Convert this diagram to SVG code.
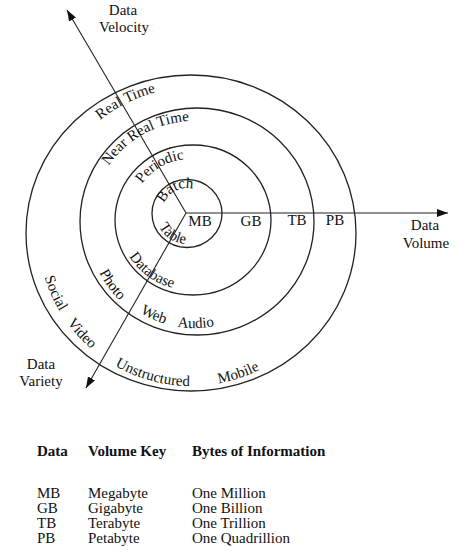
<svg xmlns="http://www.w3.org/2000/svg" xmlns:xlink="http://www.w3.org/1999/xlink" width="473" height="553" viewBox="0 0 473 553">
<style>
.ring{fill:none;stroke:#222;stroke-width:1.3}
.axis{fill:none;stroke:#222;stroke-width:1.1}
.t{font-family:"Liberation Serif","Times New Roman",serif;font-size:15px;fill:#111}
.b{font-weight:bold}
.m{text-anchor:middle}
</style>
<defs>
<marker id="ah" markerUnits="userSpaceOnUse" markerWidth="11" markerHeight="8" refX="11" refY="4" orient="auto">
<path d="M0,0 L11,4 L0,8 z" fill="#111"/>
</marker>
<path id="pRealTime" d="M46,233 A145,145 0 0 1 336,233"/>
<path id="pNear" d="M90,225 A104,104 0 0 1 298,225"/>
<path id="pPeriodic" d="M131,218 A59,59 0 0 1 249,218"/>
<path id="pBatch" d="M162,213 A25,25 0 0 1 212,213"/>
<path id="pTable" d="M187,182 A31,31 0 0 0 156,213 A31,31 0 0 0 218,213"/>
<path id="pDatabase" d="M190,146 A72,72 0 0 0 118,218 A72,72 0 0 0 262,218"/>
<path id="pPhoto" d="M194,119 A106,106 0 0 0 88,225 A106,106 0 0 0 300,225"/>
<path id="pWeb" d="M194,122 A103,103 0 0 0 91,225 A103,103 0 0 0 297,225"/>
<path id="pOuter" d="M191,80 A153,153 0 0 0 38,233 A153,153 0 0 0 344,233"/>
</defs>

<g id="rings">
<ellipse id="ring-pb" class="ring" cx="191" cy="233" rx="165" ry="158"/>
<ellipse id="ring-tb" class="ring" cx="197" cy="221.5" rx="117" ry="113.5"/>
<ellipse id="ring-gb" class="ring" cx="193" cy="220" rx="78" ry="75"/>
<ellipse id="ring-mb" class="ring" cx="187" cy="213.5" rx="35" ry="34"/>
</g>

<g id="connectors">
<line class="axis" x1="186" y1="213" x2="448" y2="213" marker-end="url(#ah)"/>
<line class="axis" x1="186" y1="213" x2="67" y2="10" marker-end="url(#ah)"/>
<line class="axis" x1="186" y1="213" x2="86" y2="388" marker-end="url(#ah)"/>
</g>

<g id="axis-velocity">
<text class="t m" x="123" y="15">Data</text>
<text class="t m" x="124" y="32">Velocity</text>
</g>
<g id="axis-volume">
<text class="t m" x="425" y="230">Data</text>
<text class="t m" x="426" y="248">Volume</text>
</g>
<g id="axis-variety">
<text class="t m" x="41" y="369">Data</text>
<text class="t m" x="41" y="386">Variety</text>
</g>

<g id="volume-labels">
<text class="t m" x="200" y="226">MB</text>
<text class="t m" x="251" y="226">GB</text>
<text class="t m" x="297" y="225">TB</text>
<text class="t m" x="335" y="225">PB</text>
</g>

<g id="velocity-labels">
<text class="t"><textPath xlink:href="#pRealTime" startOffset="129.5">Real</textPath></text>
<text class="t"><textPath xlink:href="#pRealTime" startOffset="160.8">Time</textPath></text>
<text class="t"><textPath xlink:href="#pNear" startOffset="63">Near</textPath></text>
<text class="t"><textPath xlink:href="#pNear" startOffset="95.9">Real</textPath></text>
<text class="t"><textPath xlink:href="#pNear" startOffset="127.1">Time</textPath></text>
<text class="t m"><textPath xlink:href="#pPeriodic" startOffset="61.5">Periodic</textPath></text>
<text class="t m"><textPath xlink:href="#pBatch" startOffset="27.5">Batch</textPath></text>
</g>

<g id="variety-labels">
<text class="t m"><textPath xlink:href="#pTable" startOffset="79">Table</textPath></text>
<text class="t m"><textPath xlink:href="#pDatabase" startOffset="181">Database</textPath></text>
<text class="t m"><textPath xlink:href="#pPhoto" startOffset="233">Photo</textPath></text>
<text class="t m"><textPath xlink:href="#pWeb" startOffset="280">Web</textPath></text>
<text class="t m"><textPath xlink:href="#pWeb" startOffset="325">Audio</textPath></text>
<text class="t m"><textPath xlink:href="#pOuter" startOffset="304">Social</textPath></text>
<text class="t m"><textPath xlink:href="#pOuter" startOffset="354">Video</textPath></text>
<text class="t m"><textPath xlink:href="#pOuter" startOffset="440">Unstructured</textPath></text>
<text class="t m"><textPath xlink:href="#pOuter" startOffset="530">Mobile</textPath></text>
</g>

<g id="key-table">
<text class="t b" x="37" y="456">Data</text>
<text class="t b" x="88" y="456">Volume Key</text>
<text class="t b" x="192" y="456">Bytes of Information</text>
<text class="t" x="37" y="498">MB</text>
<text class="t" x="88" y="498">Megabyte</text>
<text class="t" x="192" y="498">One Million</text>
<text class="t" x="37" y="513">GB</text>
<text class="t" x="88" y="513">Gigabyte</text>
<text class="t" x="192" y="513">One Billion</text>
<text class="t" x="37" y="528">TB</text>
<text class="t" x="88" y="528">Terabyte</text>
<text class="t" x="192" y="528">One Trillion</text>
<text class="t" x="37" y="543">PB</text>
<text class="t" x="88" y="543">Petabyte</text>
<text class="t" x="192" y="543">One Quadrillion</text>
</g>
</svg>
